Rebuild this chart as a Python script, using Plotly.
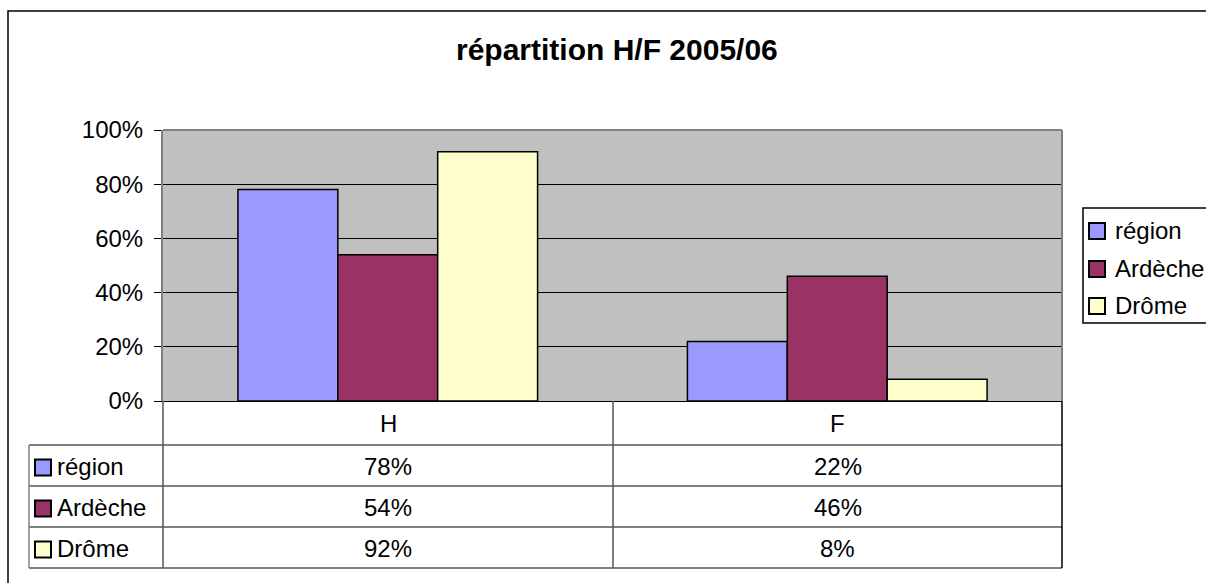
import plotly.graph_objects as go

W, H = 1206, 583

categories = ["H", "F"]
series_names = ["région", "Ardèche", "Drôme"]
region = [0.78, 0.22]
ardeche = [0.54, 0.46]
drome = [0.92, 0.08]
series_values = [region, ardeche, drome]
series_colors = ["#9999FF", "#993366", "#FFFFCC"]
y_ticks = [0, 0.2, 0.4, 0.6, 0.8, 1.0]
title_text = "répartition H/F 2005/06"

FONT = "Liberation Sans, Arial, sans-serif"

def px(x):
    return x / W

def py(y):
    return 1 - y / H

# plot area in pixels
L, R, T, B = 163, 1062, 130, 401

fig = go.Figure()
for name, vals, col in zip(series_names, series_values, series_colors):
    fig.add_trace(go.Bar(
        x=categories, y=vals, name=name,
        marker=dict(color=col, line=dict(color="black", width=1.5)),
        showlegend=False,
    ))

shapes = []
annotations = []

# outer chart frame
shapes.append(dict(type="rect", xref="paper", yref="paper",
                   x0=px(8), x1=px(1230), y0=py(11), y1=py(620),
                   line=dict(color="black", width=1.5), fillcolor="rgba(0,0,0,0)", layer="below"))

# plot border (top/right gray)
shapes.append(dict(type="line", xref="paper", yref="paper", x0=px(L), x1=px(R), y0=py(T), y1=py(T),
                   line=dict(color="#808080", width=2)))
shapes.append(dict(type="line", xref="paper", yref="paper", x0=px(R), x1=px(R), y0=py(T), y1=py(B),
                   line=dict(color="#808080", width=2)))

# data table
rows = [401, 445, 486, 527, 568]
gray = "#808080"
for yv in rows[1:]:
    shapes.append(dict(type="line", xref="paper", yref="paper", x0=px(29), x1=px(1062),
                       y0=py(yv), y1=py(yv), line=dict(color=gray, width=2)))
shapes.append(dict(type="line", xref="paper", yref="paper", x0=px(29), x1=px(29),
                   y0=py(445), y1=py(568), line=dict(color=gray, width=1.5)))
for xv in [163, 613]:
    shapes.append(dict(type="line", xref="paper", yref="paper", x0=px(xv), x1=px(xv),
                       y0=py(401), y1=py(568), line=dict(color="#555555", width=1.5)))
shapes.append(dict(type="line", xref="paper", yref="paper", x0=px(1062), x1=px(1062),
                   y0=py(401), y1=py(568), line=dict(color="black", width=1.5)))

col_centers = [388, 837.5]
for c, cx in zip(categories, col_centers):
    annotations.append(dict(x=px(cx), y=py(423), xref="paper", yref="paper", text=c,
                            showarrow=False, font=dict(family=FONT, size=24, color="black"),
                            xanchor="center", yanchor="middle"))
for r, (name, vals, col) in enumerate(zip(series_names, series_values, series_colors)):
    cy = (rows[r + 1] + rows[r + 2]) / 2
    shapes.append(dict(type="rect", xref="paper", yref="paper", x0=px(35), x1=px(51),
                       y0=py(cy - 6), y1=py(cy + 10), fillcolor=col,
                       line=dict(color="black", width=2)))
    annotations.append(dict(x=px(55), y=py(cy + 1), xref="paper", yref="paper", text=name,
                            showarrow=False, font=dict(family=FONT, size=24, color="black"),
                            xanchor="left", yanchor="middle"))
    for v, cx in zip(vals, col_centers):
        annotations.append(dict(x=px(cx), y=py(cy + 1), xref="paper", yref="paper",
                                text=f"{round(v * 100)}%", showarrow=False,
                                font=dict(family=FONT, size=24, color="black"),
                                xanchor="center", yanchor="middle"))

# legend (custom)
shapes.append(dict(type="rect", xref="paper", yref="paper", x0=px(1083), x1=px(1240),
                   y0=py(208), y1=py(323), line=dict(color="black", width=1.5),
                   fillcolor="white"))
leg_y = [229, 267, 304]
for name, col, ly in zip(series_names, series_colors, leg_y):
    shapes.append(dict(type="rect", xref="paper", yref="paper", x0=px(1089), x1=px(1105),
                       y0=py(ly - 6), y1=py(ly + 10), fillcolor=col,
                       line=dict(color="black", width=2)))
    annotations.append(dict(x=px(1113), y=py(ly + 1), xref="paper", yref="paper", text=name,
                            showarrow=False, font=dict(family=FONT, size=24, color="black"),
                            xanchor="left", yanchor="middle"))

# title
annotations.append(dict(x=px(617), y=py(50), xref="paper", yref="paper",
                        text=f"<b>{title_text}</b>", showarrow=False,
                        font=dict(family=FONT, size=30, color="black"),
                        xanchor="center", yanchor="middle"))

fig.update_layout(
    width=W, height=H,
    margin=dict(l=0, r=0, t=0, b=0, autoexpand=False),
    paper_bgcolor="white",
    plot_bgcolor="#C0C0C0",
    barmode="group", bargap=1/3, bargroupgap=0,
    showlegend=False,
    shapes=shapes, annotations=annotations,
    font=dict(family=FONT, size=24, color="black"),
    xaxis=dict(domain=[px(L), px(R)], showticklabels=False, ticks="",
               showgrid=False, zeroline=False, showline=True, linecolor="black", linewidth=1,
               fixedrange=True),
    yaxis=dict(domain=[py(B), py(T)], range=[0, 1], tickvals=y_ticks, tickformat=".0%",
               ticks="outside", ticklen=7, tickcolor="black", tickwidth=1,
               showgrid=True, gridcolor="black", gridwidth=1,
               zeroline=False, showline=True, linecolor="#808080", linewidth=2,
               tickfont=dict(family=FONT, size=24, color="black"),
               ticklabelstandoff=6, fixedrange=True),
)

fig.write_html(
    "out.html",
    config={"displayModeBar": False},
    post_script="document.body.style.margin='0';document.body.style.overflow='hidden';",
)
